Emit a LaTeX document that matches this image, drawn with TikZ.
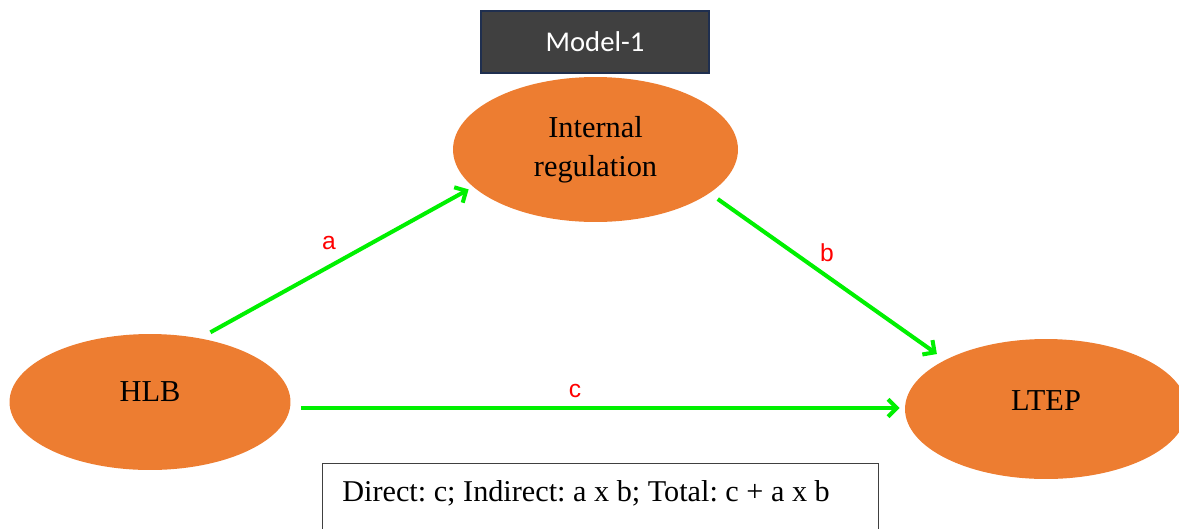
\documentclass[tikz,border=0pt]{standalone}
\usepackage{fontspec}
\setmainfont{Liberation Serif}
\newfontfamily\calib{Carlito}
\newfontfamily\arialf{Liberation Sans}
\usetikzlibrary{shapes.geometric,arrows.meta}
\definecolor{ellorange}{HTML}{ED7D31}
\definecolor{arrgreen}{HTML}{00F000}
\definecolor{boxgray}{HTML}{404040}
\definecolor{boxedge}{HTML}{1F2F4F}
\tikzset{
  ell/.style={ellipse, fill=ellorange, inner sep=0pt, font=\fontsize{17.3}{22.5}\selectfont, align=center},
  conn/.style={draw=arrgreen, line width=2.3pt, -{Straight Barb[length=5pt,width=10pt]}},
  lbl/.style={text=red, font=\arialf\fontsize{14}{16}\selectfont, inner sep=0pt},
  titlebox/.style={fill=boxgray, draw=boxedge, line width=1pt, text=white, font=\calib\fontsize{16.3}{19}\selectfont, minimum width=4.56cm, minimum height=1.24cm},
}
\begin{document}
\frenchspacing
\begin{tikzpicture}[x=0.02cm,y=-0.02cm]
\useasboundingbox (0,0) rectangle (1179,528);
\clip (0,0) rectangle (1179,528);
\node[titlebox] (title) at (595,42) {Model-1};
\node[ell, minimum width=5.7cm, minimum height=2.9cm] (ir) at (595.5,149.5) {Internal\\regulation};
\node[ell, minimum width=5.62cm, minimum height=2.72cm] (hlb) at (150,402) {\raisebox{12.4pt}{HLB}};
\node[ell, minimum width=5.64cm, minimum height=2.8cm] (ltep) at (1046,409) {\raisebox{10pt}{LTEP}};
\draw[conn, shorten <=12*0.02cm, shorten >=5*0.02cm] (hlb.52) -- (ir.197);
\draw[conn, shorten <=10*0.02cm, shorten >=10*0.02cm] (ir.339.5) -- (ltep.154.9);
\draw[conn] ([shift={(10,6)}]hlb.east) -- ([shift={(-5,-1)}]ltep.west);
\node[lbl] (la) at (329,243) {a};
\node[lbl] (lb) at (827,253) {b};
\node[lbl] (lc) at (575,391) {c};
\node[draw=black!75, line width=0.8pt, minimum width=11.12cm, minimum height=1.8cm, anchor=north west] (formula) at (322,463) {};
\node[anchor=base west, inner sep=0pt, font=\fontsize{17.2}{20}\selectfont] (ftext) at (342,501) {Direct: c; Indirect: a x b; Total: c + a x b};
\end{tikzpicture}
\end{document}
